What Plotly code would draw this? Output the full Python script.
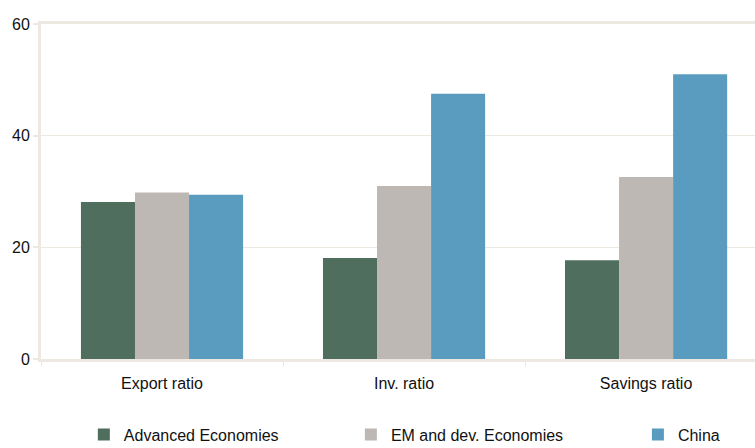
import plotly.graph_objects as go

categories = ["Export ratio", "Inv. ratio", "Savings ratio"]
advanced = [28.1, 18.1, 17.7]
emerging = [29.8, 31.0, 32.6]
china = [29.4, 47.5, 51.0]

series_names = ["Advanced Economies", "EM and dev. Economies", "China"]
series_values = [advanced, emerging, china]
colors = ["#506E5E", "#BDB8B4", "#5A9BC0"]
legend_ids = ["legend", "legend2", "legend3"]
legend_x = [0.060, 0.434, 0.836]

AXIS_COLOR = "#EEE8E3"
FONT = dict(family="Liberation Sans, Arial, sans-serif", size=16, color="#111111")

fig = go.Figure()
for name, vals, col, lg in zip(series_names, series_values, colors, legend_ids):
    fig.add_trace(go.Bar(x=categories, y=vals, name=name, marker=dict(color=col, line=dict(width=0)),
                         legend=lg, showlegend=True))

legend_common = dict(orientation="h", yref="container", yanchor="middle", y=0.03, xanchor="left",
                     font=FONT, bgcolor="rgba(0,0,0,0)", borderwidth=0)

fig.update_layout(
    width=755, height=448,
    margin=dict(l=41, r=0, t=24, b=89, autoexpand=False),
    paper_bgcolor="white", plot_bgcolor="white",
    font=FONT,
    showlegend=True,
    barmode="group", bargap=0.33, bargroupgap=0,
    legend=dict(x=legend_x[0], **legend_common),
    legend2=dict(x=legend_x[1], **legend_common),
    legend3=dict(x=legend_x[2], **legend_common),
    xaxis=dict(
        range=[-0.5, 2.45], showline=True, linecolor=AXIS_COLOR, linewidth=3, mirror=True,
        showgrid=False, ticks="outside", tickson="boundaries", ticklen=5, tickcolor=AXIS_COLOR,
        tickwidth=1, tickfont=FONT, ticklabelstandoff=8, fixedrange=True,
    ),
    yaxis=dict(
        range=[0, 60], tickvals=[0, 20, 40, 60], showline=True, linecolor=AXIS_COLOR, linewidth=3,
        showgrid=True, gridcolor=AXIS_COLOR, gridwidth=1, zeroline=False,
        ticks="outside", ticklen=5, tickcolor=AXIS_COLOR, tickwidth=2, tickfont=FONT,
    ),
)

fig.write_html("out.html")
